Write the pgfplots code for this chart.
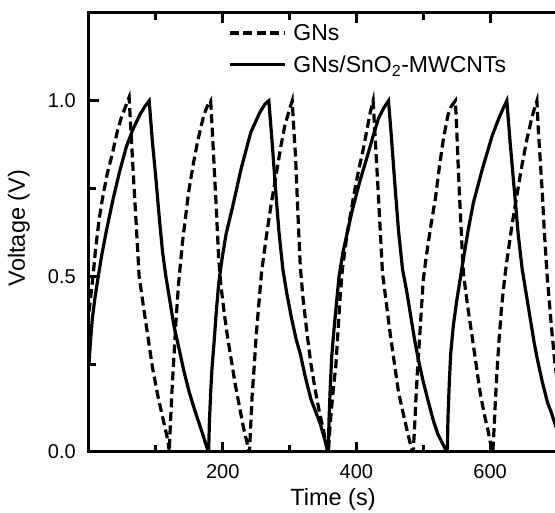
\documentclass[border=0pt]{standalone}
\usepackage{fontspec}
\setmainfont{Liberation Sans}
\usepackage{pgfplots}
\pgfplotsset{compat=1.18}
\begin{document}
\begin{tikzpicture}
\useasboundingbox (-89pt,-61pt) rectangle (466pt,452pt);
\clip (-89pt,-61pt) rectangle (466pt,452pt);
\begin{axis}[
  at={(0pt,0pt)}, anchor=south west,
  scale only axis, width=476pt, height=439pt,
  xmin=0, xmax=712, ymin=0, ymax=1.25,
  axis line style={line width=3pt, black},
  xtick={200,400,600}, xticklabels={200,400,600},
  minor xtick={100,300,500,700},
  ytick={0,0.5,1.0}, yticklabels={0.0,0.5,1.0},
  minor ytick={0.25,0.75},
  xtick pos=both, ytick pos=left,
  tick align=inside,
  major tick length=10pt, minor tick length=7pt,
  tick style={line width=3pt, black},
  xticklabel style={font=\fontsize{20}{24}\selectfont, inner sep=0pt, yshift=-12pt},
  yticklabel style={font=\fontsize{20}{24}\selectfont, inner sep=0pt, xshift=-13pt},
  xlabel={Time (s)}, ylabel={Voltage (V)},
  label style={font=\fontsize{23.5}{28}\selectfont, inner sep=0pt},
  xlabel style={at={(axis description cs:0.5126,-0.083)}, anchor=north},
  ylabel style={at={(axis description cs:-0.124,0.51)}, anchor=south},
  legend style={draw=none, fill=none, at={(axis description cs:0.292,0.975)}, anchor=north west,
    font=\fontsize{23}{27}\selectfont, inner sep=0pt, row sep=14pt, column sep=7pt, nodes={inner sep=0pt}},
  legend cell align=left,
  legend image code/.code={\draw[#1, line width=3.2pt] (0pt,0pt) -- (55pt,0pt);},
]
\addplot[black, line width=3.2pt, dash pattern=on 9pt off 4.5pt] coordinates {
(0,0.40)(3,0.45)(6,0.50)(10,0.58)(15,0.66)(20,0.72)(27,0.79)(35,0.85)(42,0.91)(48,0.95)(54,0.98)(60,1.01)
(62,0.94)(66,0.80)(70,0.67)(75,0.50)(81,0.42)(88,0.33)(95,0.24)(103,0.16)(110,0.10)(116,0.05)(119,0.02)(120,0.0)
(122,0.09)(124,0.17)(127,0.27)(130,0.37)(134,0.48)(140,0.60)(149,0.74)(156,0.82)(162,0.88)(168,0.93)(172,0.96)(177,0.985)(182,1.0)
(184,0.93)(187,0.82)(190,0.71)(194,0.55)(197,0.48)(202,0.40)(207,0.33)(213,0.26)(219,0.19)(225,0.13)(231,0.07)(236,0.03)(239,0.0)
(240,0.0)(242,0.08)(244,0.16)(247,0.24)(250,0.33)(254,0.42)(258,0.51)(265,0.61)(272,0.70)(280,0.79)(287,0.87)(293,0.93)(299,0.97)(304,1.0)
(306,0.93)(309,0.84)(312,0.70)(316,0.53)(320,0.44)(326,0.34)(332,0.25)(339,0.17)(345,0.11)(351,0.06)(355,0.02)(357,0.0)
(358,0.0)(360,0.06)(363,0.13)(366,0.19)(369,0.24)(372,0.33)(376,0.45)(379,0.52)(386,0.62)(396,0.73)(403,0.80)(410,0.86)(416,0.92)(421,0.97)(425,1.0)
(427,0.93)(430,0.83)(434,0.69)(439,0.51)(445,0.42)(451,0.33)(457,0.25)(463,0.17)(470,0.11)(476,0.06)(481,0.02)(484,0.0)
(485,0.0)(487,0.07)(489,0.15)(491,0.22)(494,0.31)(497,0.40)(500,0.49)(504,0.55)(511,0.64)(518,0.72)(524,0.81)(530,0.89)(537,0.96)(542,0.985)(548,1.0)
(550,0.92)(553,0.78)(557,0.62)(560,0.51)(566,0.42)(573,0.33)(579,0.25)(585,0.17)(591,0.11)(597,0.06)(601,0.02)(603,0.0)
(604,0.0)(606,0.07)(608,0.15)(610,0.22)(613,0.31)(617,0.41)(622,0.50)(627,0.57)(633,0.65)(640,0.73)(647,0.81)(655,0.89)(661,0.94)(665,0.97)(670,1.0)
(672,0.92)(675,0.83)(678,0.74)(681,0.63)(685,0.51)(692,0.35)(697,0.25)(702,0.18)
};
\addlegendentry{GNs}
\addplot[black, line width=3.2pt] coordinates {
(0,0.25)(2,0.31)(5,0.38)(9,0.44)(13,0.49)(19,0.56)(26,0.63)(36,0.72)(46,0.80)(56,0.87)(66,0.92)(76,0.96)(84,0.985)(90,1.0)
(95,0.88)(100,0.78)(105,0.67)(110,0.57)(115,0.50)(121,0.43)(127,0.36)(134,0.30)(142,0.23)(150,0.17)(158,0.12)(165,0.08)(171,0.045)(176,0.015)(179,0.0)
(180,0.08)(182,0.17)(184,0.24)(187,0.31)(190,0.39)(194,0.48)(199,0.55)(205,0.62)(215,0.70)(228,0.81)(242,0.91)(255,0.965)(263,0.99)(269,1.0)
(274,0.88)(279,0.75)(284,0.63)(290,0.52)(296,0.45)(303,0.38)(310,0.32)(316,0.28)(324,0.21)(332,0.15)(340,0.11)(346,0.08)(352,0.04)(356,0.01)(358,0.0)
(359,0.09)(361,0.19)(363,0.27)(366,0.34)(370,0.42)(374,0.50)(380,0.57)(387,0.63)(394,0.69)(405,0.77)(416,0.84)(425,0.90)(433,0.95)(441,0.98)(448,1.0)
(453,0.88)(458,0.75)(463,0.63)(469,0.52)(475,0.46)(481,0.39)(487,0.32)(493,0.26)(500,0.20)(508,0.14)(515,0.09)(522,0.05)(530,0.02)(534,0.005)(536,0.0)
(537,0.10)(539,0.20)(541,0.28)(545,0.36)(550,0.43)(555,0.49)(560,0.55)(567,0.63)(575,0.71)(589,0.81)(603,0.90)(613,0.95)(620,0.98)(625,1.0)
(630,0.88)(636,0.75)(642,0.62)(648,0.52)(654,0.45)(660,0.38)(666,0.31)(670,0.27)(678,0.20)(686,0.14)(692,0.11)(697,0.08)(700,0.065)
};
\addlegendentry{GNs/SnO\textsubscript{2}-MWCNTs}
\end{axis}
\end{tikzpicture}
\end{document}
